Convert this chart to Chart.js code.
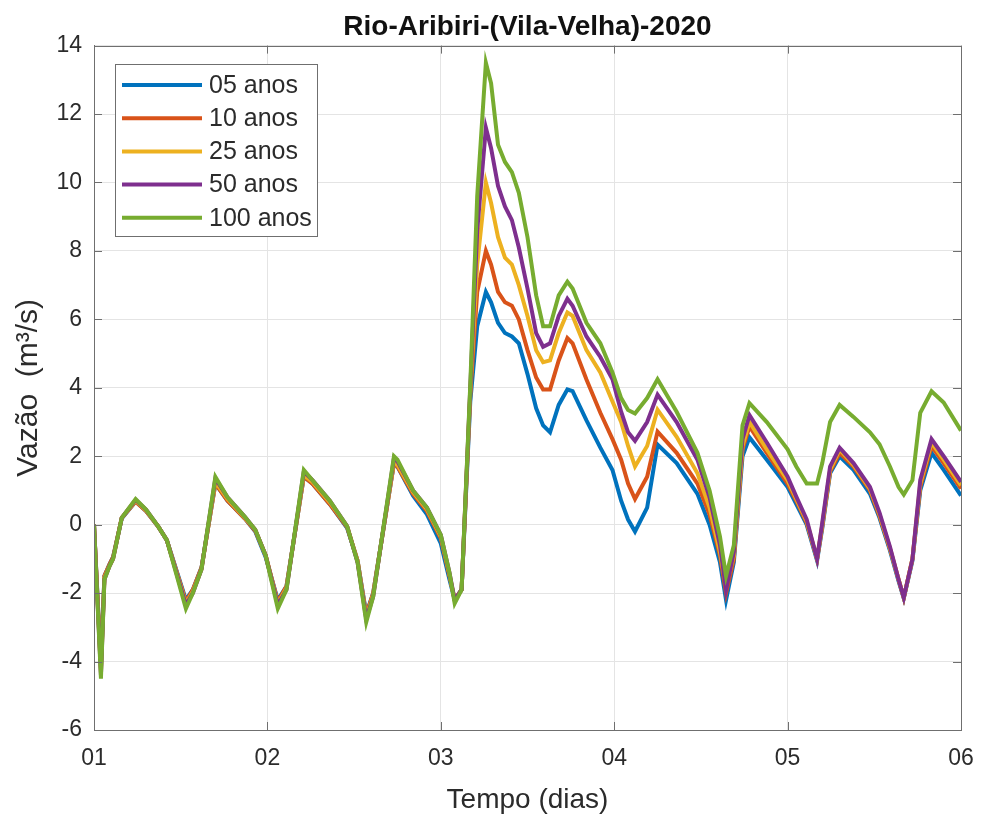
<!DOCTYPE html>
<html lang="pt">
<head>
  <meta charset="UTF-8" />
  <title>Rio-Aribiri-(Vila-Velha)-2020</title>
  <script src="https://cdn.jsdelivr.net/npm/chart.js"></script>
  <style>
    body { margin: 0; background: #ffffff; }
    #wrap { width: 981px; height: 817px; }
  </style>
</head>
<body>
  <div id="wrap"><canvas id="vazaoChart" width="981" height="817"></canvas></div>

  <script>
    // tempo em dias (eixo x), comum a todas as series
    const days = [
      1.00, 1.04, 1.06, 1.09, 1.11, 1.16, 1.24, 1.30, 1.37, 1.42,
      1.53, 1.57, 1.62, 1.70, 1.77, 1.87, 1.93, 1.99, 2.06, 2.11,
      2.21, 2.26, 2.36, 2.46, 2.52, 2.57, 2.61, 2.73, 2.75, 2.84,
      2.92, 3.00, 3.05, 3.08, 3.12,
      3.17, 3.21, 3.26, 3.29, 3.33, 3.37, 3.41, 3.45, 3.50, 3.55,
      3.59, 3.63, 3.68, 3.73, 3.76, 3.84, 3.92, 3.99, 4.04, 4.08,
      4.12, 4.19, 4.25, 4.36, 4.48, 4.55, 4.61, 4.645, 4.69, 4.74,
      4.78, 4.88, 5.00, 5.05, 5.11, 5.17, 5.20, 5.245, 5.30, 5.38,
      5.475, 5.53, 5.59, 5.64, 5.67, 5.72, 5.765, 5.83, 5.90, 6.00
    ];

    // vazao (m3/s) por tempo de retorno
    const anos05 = [
      0.0, -4.1, -1.5, -1.15, -0.95, 0.18, 0.68, 0.4, -0.05, -0.45,
      -2.2, -1.9, -1.25, 1.2, 0.7, 0.18, -0.2, -0.95, -2.2, -1.8,
      1.4, 1.2, 0.6, -0.1, -1.05, -2.6, -2.0, 1.8, 1.7, 0.85,
      0.3, -0.55, -1.6, -2.2, -1.9,
      3.6, 5.8, 6.8, 6.5, 5.9, 5.6, 5.5, 5.3, 4.4, 3.4,
      2.9, 2.7, 3.5, 3.95, 3.9, 3.05, 2.25, 1.6, 0.7, 0.15,
      -0.2, 0.5, 2.34, 1.8, 0.9, 0.0, -1.1, -2.2, -1.1, 2.0,
      2.55, 1.9, 1.1, 0.6, 0.0, -1.05, -0.1, 1.5, 2.0, 1.6,
      0.9, 0.2, -0.75, -1.65, -2.15, -1.05, 1.0, 2.1, 1.6, 0.85
    ];
    const anos10 = [
      0.0, -4.2, -1.5, -1.15, -0.95, 0.2, 0.68, 0.4, -0.05, -0.45,
      -2.25, -1.9, -1.25, 1.2, 0.7, 0.18, -0.18, -0.9, -2.25, -1.8,
      1.4, 1.2, 0.6, -0.08, -1.05, -2.65, -2.0, 1.8, 1.7, 0.9,
      0.4, -0.4, -1.5, -2.2, -1.9,
      3.8, 6.8, 8.0, 7.6, 6.8, 6.5, 6.4, 6.0, 5.1, 4.3,
      3.95, 3.95, 4.8, 5.45, 5.3, 4.24, 3.27, 2.5, 1.9, 1.2,
      0.75, 1.4, 2.72, 2.1, 1.2, 0.3, -0.9, -2.0, -1.0, 2.2,
      2.87, 2.1, 1.2, 0.7, 0.05, -1.0, -0.05, 1.55, 2.1, 1.7,
      1.0, 0.25, -0.7, -1.6, -2.13, -1.0, 1.1, 2.3, 1.8, 1.05
    ];
    const anos25 = [
      0.0, -4.3, -1.55, -1.2, -1.0, 0.2, 0.7, 0.42, -0.05, -0.45,
      -2.3, -1.95, -1.3, 1.25, 0.75, 0.2, -0.15, -0.9, -2.3, -1.85,
      1.45, 1.25, 0.65, -0.05, -1.05, -2.7, -2.05, 1.85, 1.75, 0.95,
      0.45, -0.35, -1.45, -2.2, -1.9,
      3.9, 7.6, 10.0, 9.4, 8.4, 7.8, 7.6, 7.0, 6.1, 5.1,
      4.75, 4.8, 5.6, 6.2, 6.1, 5.1, 4.45, 3.6, 3.0, 2.3,
      1.7, 2.3, 3.36, 2.57, 1.5, 0.5, -0.8, -1.8, -0.9, 2.3,
      3.0, 2.2, 1.3, 0.75, 0.1, -1.0, 0.0, 1.6, 2.2, 1.75,
      1.05, 0.3, -0.68, -1.6, -2.13, -1.0, 1.2, 2.4, 1.9, 1.15
    ];
    const anos50 = [
      0.0, -4.4, -1.6, -1.2, -1.0, 0.2, 0.73, 0.44, -0.05, -0.45,
      -2.35, -2.0, -1.3, 1.35, 0.8, 0.23, -0.15, -0.9, -2.35, -1.9,
      1.55, 1.3, 0.7, -0.05, -1.1, -2.75, -2.1, 1.95, 1.85, 1.0,
      0.5, -0.3, -1.4, -2.2, -1.9,
      4.0, 8.6, 11.6, 11.0, 9.9, 9.3, 8.9, 8.1, 6.9, 5.6,
      5.2, 5.3, 6.1, 6.6, 6.4, 5.5, 4.9, 4.25, 3.3, 2.7,
      2.45, 3.0, 3.8, 3.0, 1.9, 0.8, -0.6, -1.9, -0.8, 2.5,
      3.2, 2.4, 1.4, 0.82, 0.15, -1.0, 0.06, 1.7, 2.25, 1.8,
      1.1, 0.35, -0.64, -1.6, -2.13, -1.0, 1.3, 2.5, 2.0, 1.25
    ];
    const anos100 = [
      0.0, -4.5, -1.6, -1.2, -1.0, 0.2, 0.75, 0.44, -0.05, -0.45,
      -2.45, -2.0, -1.3, 1.4, 0.8, 0.23, -0.15, -0.9, -2.45, -1.9,
      1.6, 1.3, 0.7, -0.05, -1.1, -2.85, -2.1, 2.0, 1.9, 1.0,
      0.5, -0.3, -1.4, -2.3, -1.9,
      4.1, 9.6, 13.5, 12.9, 11.1, 10.6, 10.3, 9.7, 8.4, 6.7,
      5.8, 5.8, 6.7, 7.1, 6.9, 5.9, 5.3, 4.45, 3.7, 3.35,
      3.25, 3.7, 4.25, 3.3, 2.1, 1.0, -0.35, -1.5, -0.6, 2.9,
      3.55, 3.0, 2.2, 1.7, 1.2, 1.2, 1.8, 3.0, 3.5, 3.15,
      2.7, 2.35, 1.7, 1.1, 0.88, 1.3, 3.27, 3.9, 3.57, 2.75
    ];

    const seriesNames = ['05 anos', '10 anos', '25 anos', '50 anos', '100 anos'];
    const seriesValues = [anos05, anos10, anos25, anos50, anos100];
    const seriesColors = ['#0072BD', '#D95319', '#EDB120', '#7E2F8E', '#77AC30'];

    const textColor = '#2b2b2b';
    const boxColor = '#6f6f6f';
    Chart.defaults.font.family = '"Liberation Sans", Arial, sans-serif';
    Chart.defaults.color = textColor;

    // caixa completa do eixo e marcas de escala para dentro (estilo MATLAB)
    const axesBox = {
      id: 'axesBox',
      afterDatasetsDraw(chart) {
        const { ctx, chartArea: a, scales: { x, y } } = chart;
        ctx.save();
        ctx.strokeStyle = boxColor;
        ctx.lineWidth = 1;
        ctx.beginPath();
        x.ticks.forEach(t => {
          const px = Math.round(x.getPixelForValue(t.value)) + 0.5;
          ctx.moveTo(px, a.bottom); ctx.lineTo(px, a.bottom - 8);
          ctx.moveTo(px, a.top); ctx.lineTo(px, a.top + 8);
        });
        y.ticks.forEach(t => {
          const py = Math.round(y.getPixelForValue(t.value)) + 0.5;
          ctx.moveTo(a.left, py); ctx.lineTo(a.left + 8, py);
          ctx.moveTo(a.right, py); ctx.lineTo(a.right - 8, py);
        });
        ctx.stroke();
        ctx.strokeRect(Math.round(a.left) + 0.5, Math.round(a.top) + 0.5,
                       Math.round(a.width), Math.round(a.height));
        ctx.restore();
      }
    };

    // legenda dentro da area do grafico, canto superior esquerdo
    const legendBox = {
      id: 'legendBox',
      afterDraw(chart) {
        const { ctx, chartArea: a } = chart;
        const bx = Math.round(a.left) + 21, by = Math.round(a.top) + 18;
        const bw = 202, bh = 172;
        ctx.save();
        ctx.fillStyle = '#ffffff';
        ctx.fillRect(bx, by, bw, bh);
        ctx.strokeStyle = boxColor;
        ctx.lineWidth = 1;
        ctx.strokeRect(bx + 0.5, by + 0.5, bw, bh);
        ctx.font = '25px "Liberation Sans", Arial, sans-serif';
        ctx.textBaseline = 'middle';
        chart.data.datasets.forEach((ds, i) => {
          const cy = by + 21 + i * 33.2;
          ctx.strokeStyle = ds.borderColor;
          ctx.lineWidth = 4;
          ctx.beginPath();
          ctx.moveTo(bx + 7, cy);
          ctx.lineTo(bx + 87, cy);
          ctx.stroke();
          ctx.fillStyle = textColor;
          ctx.fillText(ds.label, bx + 94, cy + 1);
        });
        ctx.restore();
      }
    };

    const datasets = seriesNames.map((name, i) => ({
      label: name,
      data: days.map((d, k) => ({ x: d, y: seriesValues[i][k] })),
      borderColor: seriesColors[i],
      backgroundColor: seriesColors[i],
      borderWidth: 4,
      pointRadius: 0,
      tension: 0,
      fill: false,
      order: seriesNames.length - i   // ultimo plotado fica por cima
    }));

    new Chart(document.getElementById('vazaoChart'), {
      type: 'line',
      data: { datasets },
      options: {
        responsive: false,
        animation: false,
        layout: { padding: { top: 0, right: 20, left: 0, bottom: 0 } },
        plugins: {
          legend: { display: false },
          tooltip: { enabled: false },
          title: {
            display: true,
            text: 'Rio-Aribiri-(Vila-Velha)-2020',
            fullSize: false,
            color: '#111',
            font: { size: 28, weight: 'bold' },
            padding: { top: 10, bottom: 2 }
          }
        },
        scales: {
          x: {
            type: 'linear',
            min: 1,
            max: 6,
            ticks: {
              stepSize: 1,
              padding: 15,
              font: { size: 23 },
              color: textColor,
              callback: v => (v < 10 ? '0' : '') + v
            },
            grid: { color: '#e4e4e4', drawTicks: false },
            border: { color: boxColor },
            title: {
              display: true,
              text: 'Tempo (dias)',
              font: { size: 28 },
              color: textColor,
              padding: { top: 0, bottom: 0 }
            },
            afterFit: scale => {
              scale.height = 87;
              // o rotulo "06" cabe na margem direita fixa
              scale.paddingLeft = 0;
              scale.paddingRight = 0;
            }
          },
          y: {
            min: -6,
            max: 14,
            ticks: {
              stepSize: 2,
              padding: 12,
              font: { size: 23 },
              color: textColor
            },
            grid: { color: '#e4e4e4', drawTicks: false },
            border: { color: boxColor },
            title: {
              display: true,
              text: 'Vazão  (m³/s)',
              font: { size: 30 },
              color: textColor,
              padding: { top: 11, bottom: 0 }
            },
            afterFit: scale => { scale.width = 94; }
          }
        }
      },
      plugins: [axesBox, legendBox]
    });
  </script>
</body>
</html>
